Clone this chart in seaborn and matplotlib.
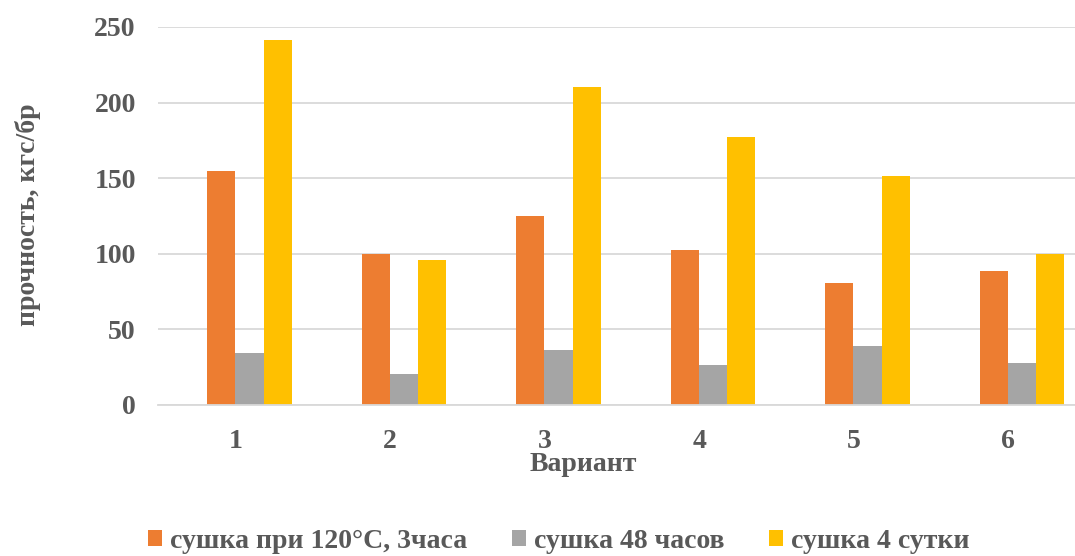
import numpy as np
import pandas as pd
import matplotlib
matplotlib.use("Agg")
import matplotlib.pyplot as plt
import seaborn as sns

# --- data ---
variants = ["1", "2", "3", "4", "5", "6"]
series_names = ["сушка при 120°С, 3часа", "сушка 48 часов", "сушка 4 сутки"]
dry_120c_3h = [155, 100, 125, 102.5, 81, 88.5]
dry_48h = [34.5, 20.5, 36.5, 26.5, 39, 28]
dry_4days = [241.5, 96, 210, 177, 151.5, 100]
colors = ["#ED7D31", "#A5A5A5", "#FFC000"]

rows = []
for name, vals in zip(series_names, [dry_120c_3h, dry_48h, dry_4days]):
    for v, val in zip(variants, vals):
        rows.append({"Вариант": v, "series": name, "value": val})
df = pd.DataFrame(rows)

sns.set_style("white")
text_color = "#595959"
fs = 20
plt.rcParams["font.family"] = ["Liberation Serif", "DejaVu Serif"]
plt.rcParams["font.weight"] = "bold"

fig = plt.figure(figsize=(10.75, 5.56), dpi=100)
ax = fig.add_axes([158 / 1075, 1 - 405 / 556, (1075 - 158) / 1075, (405 - 27) / 556])

sns.barplot(data=df, x="Вариант", y="value", hue="series", order=variants,
            hue_order=series_names, palette=colors, width=0.545, gap=0,
            saturation=1, linewidth=0, legend=True, ax=ax)

ax.set_xlim(-0.592, 5.343)
ax.set_ylim(0, 250)
ax.set_yticks([0, 50, 100, 150, 200, 250])
ax.yaxis.grid(True, color="#D9D9D9", linewidth=1.3)
ax.set_axisbelow(True)
for s in ["top", "right", "left"]:
    ax.spines[s].set_visible(False)
ax.spines["bottom"].set_color("#D9D9D9")
ax.spines["bottom"].set_linewidth(1.3)

# Word places the category labels a bit to the left of the bar groups
ax.set_xticks(np.arange(len(variants)) - 0.09, variants)
ax.tick_params(axis="both", length=0, labelsize=fs, colors=text_color)
ax.tick_params(axis="x", pad=17)
ax.tick_params(axis="y", pad=16)
for lbl in ax.get_xticklabels() + ax.get_yticklabels():
    lbl.set_fontweight("bold")

ax.set_xlabel("Вариант", fontsize=fs, fontweight="bold", color=text_color)
ax.set_ylabel("прочность, кгс/бр", fontsize=fs, fontweight="bold", color=text_color)
ax.xaxis.set_label_coords((583 - 158) / 917, -(452 - 405) / 378)
ax.yaxis.set_label_coords((41 - 158) / 917, (405 - 215) / 378)

handles, labels = ax.get_legend_handles_labels()
ax.legend_.remove()
fig.legend(handles, labels, loc="center", bbox_to_anchor=(0.52, 1 - 541 / 556), ncol=3,
           frameon=False, prop={"size": fs, "weight": "bold"}, labelcolor=text_color,
           handlelength=0.5, handleheight=0.5, handletextpad=0.3, columnspacing=1.6,
           borderpad=0.1)

plt.savefig("out.png", dpi=100)
